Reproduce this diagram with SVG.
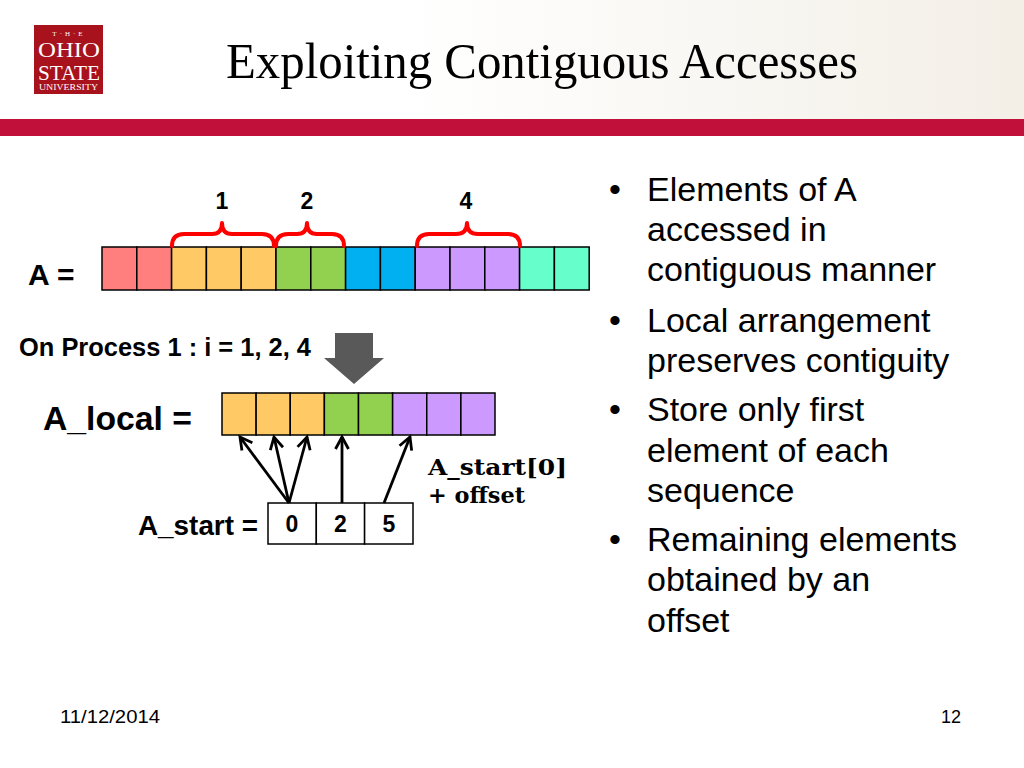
<svg xmlns="http://www.w3.org/2000/svg" width="1024" height="768" viewBox="0 0 1024 768">
<defs>
<linearGradient id="hdr" x1="0" y1="0" x2="1" y2="0">
<stop offset="0" stop-color="#ffffff"/>
<stop offset="0.4" stop-color="#ffffff"/>
<stop offset="1" stop-color="#f3efe7"/>
</linearGradient>
<marker id="ah" viewBox="0 0 16 16" refX="13" refY="8" markerWidth="16" markerHeight="16" markerUnits="userSpaceOnUse" orient="auto">
<path d="M1,1.5 L13,8 L1,14.5" fill="none" stroke="#000" stroke-width="2.8" stroke-linejoin="miter"/>
</marker>
</defs>
<style>
.cell{stroke:#000;stroke-width:1.5}
.red{fill:#FF7F7F}.org{fill:#FFC966}.grn{fill:#92D050}.blu{fill:#00B0F0}.pur{fill:#CC99FF}.tea{fill:#66FFCC}
.brace{fill:none;stroke:#FF0000;stroke-width:4;stroke-linejoin:round;stroke-linecap:round}
.lbl{font-family:"Liberation Sans",Arial,sans-serif;font-weight:bold;fill:#000}
.bul{font-family:"Liberation Sans",Arial,sans-serif;font-size:34px;fill:#000}
.conn{stroke:#000;stroke-width:2.8;fill:none}
.logo{font-family:"Liberation Serif","Times New Roman",serif;fill:#fff}
</style>
<rect x="0" y="0" width="1024" height="768" fill="#fff"/>
<rect x="0" y="0" width="1024" height="119" fill="url(#hdr)"/>
<rect x="0" y="119" width="1024" height="17" fill="#C1113A"/>

<g id="logo">
<rect x="34" y="25" width="69" height="69" fill="#A8121C"/>
<text class="logo" x="69" y="36" font-size="7" text-anchor="middle" letter-spacing="3">T·H·E</text>
<text class="logo" x="38" y="57" font-size="21" textLength="62" lengthAdjust="spacingAndGlyphs">OHIO</text>
<text class="logo" x="38" y="80" font-size="21" textLength="62" lengthAdjust="spacingAndGlyphs">STATE</text>
<text class="logo" x="39" y="90" font-size="7.5" textLength="59" lengthAdjust="spacingAndGlyphs">UNIVERSITY</text>
</g>

<text id="title" x="226" y="78" font-family="'Liberation Serif','Times New Roman',serif" font-size="50" fill="#000" textLength="632" lengthAdjust="spacingAndGlyphs">Exploiting Contiguous Accesses</text>

<g id="arrayA">
<text class="lbl" x="28" y="285" font-size="30">A =</text>
<rect class="cell red" x="102" y="247" width="34.8" height="43"/>
<rect class="cell red" x="136.8" y="247" width="34.8" height="43"/>
<rect class="cell org" x="171.6" y="247" width="34.8" height="43"/>
<rect class="cell org" x="206.4" y="247" width="34.8" height="43"/>
<rect class="cell org" x="241.2" y="247" width="34.8" height="43"/>
<rect class="cell grn" x="276" y="247" width="34.8" height="43"/>
<rect class="cell grn" x="310.8" y="247" width="34.8" height="43"/>
<rect class="cell blu" x="345.6" y="247" width="34.8" height="43"/>
<rect class="cell blu" x="380.4" y="247" width="34.8" height="43"/>
<rect class="cell pur" x="415.2" y="247" width="34.8" height="43"/>
<rect class="cell pur" x="450" y="247" width="34.8" height="43"/>
<rect class="cell pur" x="484.8" y="247" width="34.8" height="43"/>
<rect class="cell tea" x="519.6" y="247" width="34.8" height="43"/>
<rect class="cell tea" x="554.4" y="247" width="34.8" height="43"/>
</g>

<g id="braces">
<path class="brace" d="M172,246 Q172,234 184,234 L212,234 Q222,234 222,223 Q222,234 232,234 L262,234 Q274,234 274,246"/>
<path class="brace" d="M276,246 Q276,234 288,234 L297,234 Q307,234 307,223 Q307,234 317,234 L332,234 Q344,234 344,246"/>
<path class="brace" d="M417,246 Q417,234 429,234 L456,234 Q467,234 467,223 Q467,234 478,234 L508,234 Q520,234 520,246"/>
<text class="lbl" x="222" y="209" font-size="23" text-anchor="middle">1</text>
<text class="lbl" x="307" y="209" font-size="23" text-anchor="middle">2</text>
<text class="lbl" x="466" y="209" font-size="23" text-anchor="middle">4</text>
</g>

<text id="process" class="lbl" x="19" y="356" font-size="25" textLength="292" lengthAdjust="spacingAndGlyphs">On Process 1 : i = 1, 2, 4</text>

<g id="downArrow">
<path d="M335,333 L373,333 L373,358 L384,358 L354,384 L324,358 L335,358 Z" fill="#595959"/>
</g>

<g id="Alocal">
<text class="lbl" x="43" y="430" font-size="33" textLength="149" lengthAdjust="spacingAndGlyphs">A_local =</text>
<rect class="cell org" x="222" y="393" width="34.125" height="42"/>
<rect class="cell org" x="256.125" y="393" width="34.125" height="42"/>
<rect class="cell org" x="290.25" y="393" width="34.125" height="42"/>
<rect class="cell grn" x="324.375" y="393" width="34.125" height="42"/>
<rect class="cell grn" x="358.5" y="393" width="34.125" height="42"/>
<rect class="cell pur" x="392.625" y="393" width="34.125" height="42"/>
<rect class="cell pur" x="426.75" y="393" width="34.125" height="42"/>
<rect class="cell pur" x="460.875" y="393" width="34.125" height="42"/>
</g>

<g id="Astart">
<text class="lbl" x="138" y="535" font-size="27" textLength="120" lengthAdjust="spacingAndGlyphs">A_start =</text>
<rect x="268" y="503" width="48.3" height="41" fill="#fff" stroke="#000" stroke-width="1.5"/>
<rect x="316.3" y="503" width="48.3" height="41" fill="#fff" stroke="#000" stroke-width="1.5"/>
<rect x="364.6" y="503" width="48.4" height="41" fill="#fff" stroke="#000" stroke-width="1.5"/>
<text class="lbl" x="292" y="532" font-size="23" text-anchor="middle">0</text>
<text class="lbl" x="340.5" y="532" font-size="23" text-anchor="middle">2</text>
<text class="lbl" x="389" y="532" font-size="23" text-anchor="middle">5</text>
</g>

<g id="connectors">
<line class="conn" x1="289" y1="503" x2="240" y2="437" marker-end="url(#ah)"/>
<line class="conn" x1="289" y1="503" x2="274" y2="437" marker-end="url(#ah)"/>
<line class="conn" x1="289" y1="503" x2="307" y2="437" marker-end="url(#ah)"/>
<line class="conn" x1="342" y1="503" x2="342" y2="437" marker-end="url(#ah)"/>
<line class="conn" x1="384" y1="503" x2="410" y2="437" marker-end="url(#ah)"/>
</g>

<g id="offsetLabel" font-family="'DejaVu Serif','Liberation Serif',serif" font-weight="bold" font-size="22" fill="#000">
<text x="428" y="475" textLength="139" lengthAdjust="spacingAndGlyphs">A_start[0]</text>
<text x="428" y="503" textLength="97" lengthAdjust="spacingAndGlyphs">+ offset</text>
</g>

<g id="bullets">
<text class="bul" x="609" y="201">•</text>
<text class="bul" x="647" y="201">Elements of A</text>
<text class="bul" x="647" y="241">accessed in</text>
<text class="bul" x="647" y="281">contiguous manner</text>
<text class="bul" x="609" y="332">•</text>
<text class="bul" x="647" y="332">Local arrangement</text>
<text class="bul" x="647" y="372">preserves contiguity</text>
<text class="bul" x="609" y="421">•</text>
<text class="bul" x="647" y="421">Store only first</text>
<text class="bul" x="647" y="462">element of each</text>
<text class="bul" x="647" y="502">sequence</text>
<text class="bul" x="609" y="551">•</text>
<text class="bul" x="647" y="551">Remaining elements</text>
<text class="bul" x="647" y="591">obtained by an</text>
<text class="bul" x="647" y="632">offset</text>
</g>

<g id="footer" font-family="'Liberation Sans',Arial,sans-serif" font-size="18" fill="#000">
<text x="60" y="723" textLength="100" lengthAdjust="spacingAndGlyphs">11/12/2014</text>
<text x="961" y="723" text-anchor="end">12</text>
</g>
</svg>
